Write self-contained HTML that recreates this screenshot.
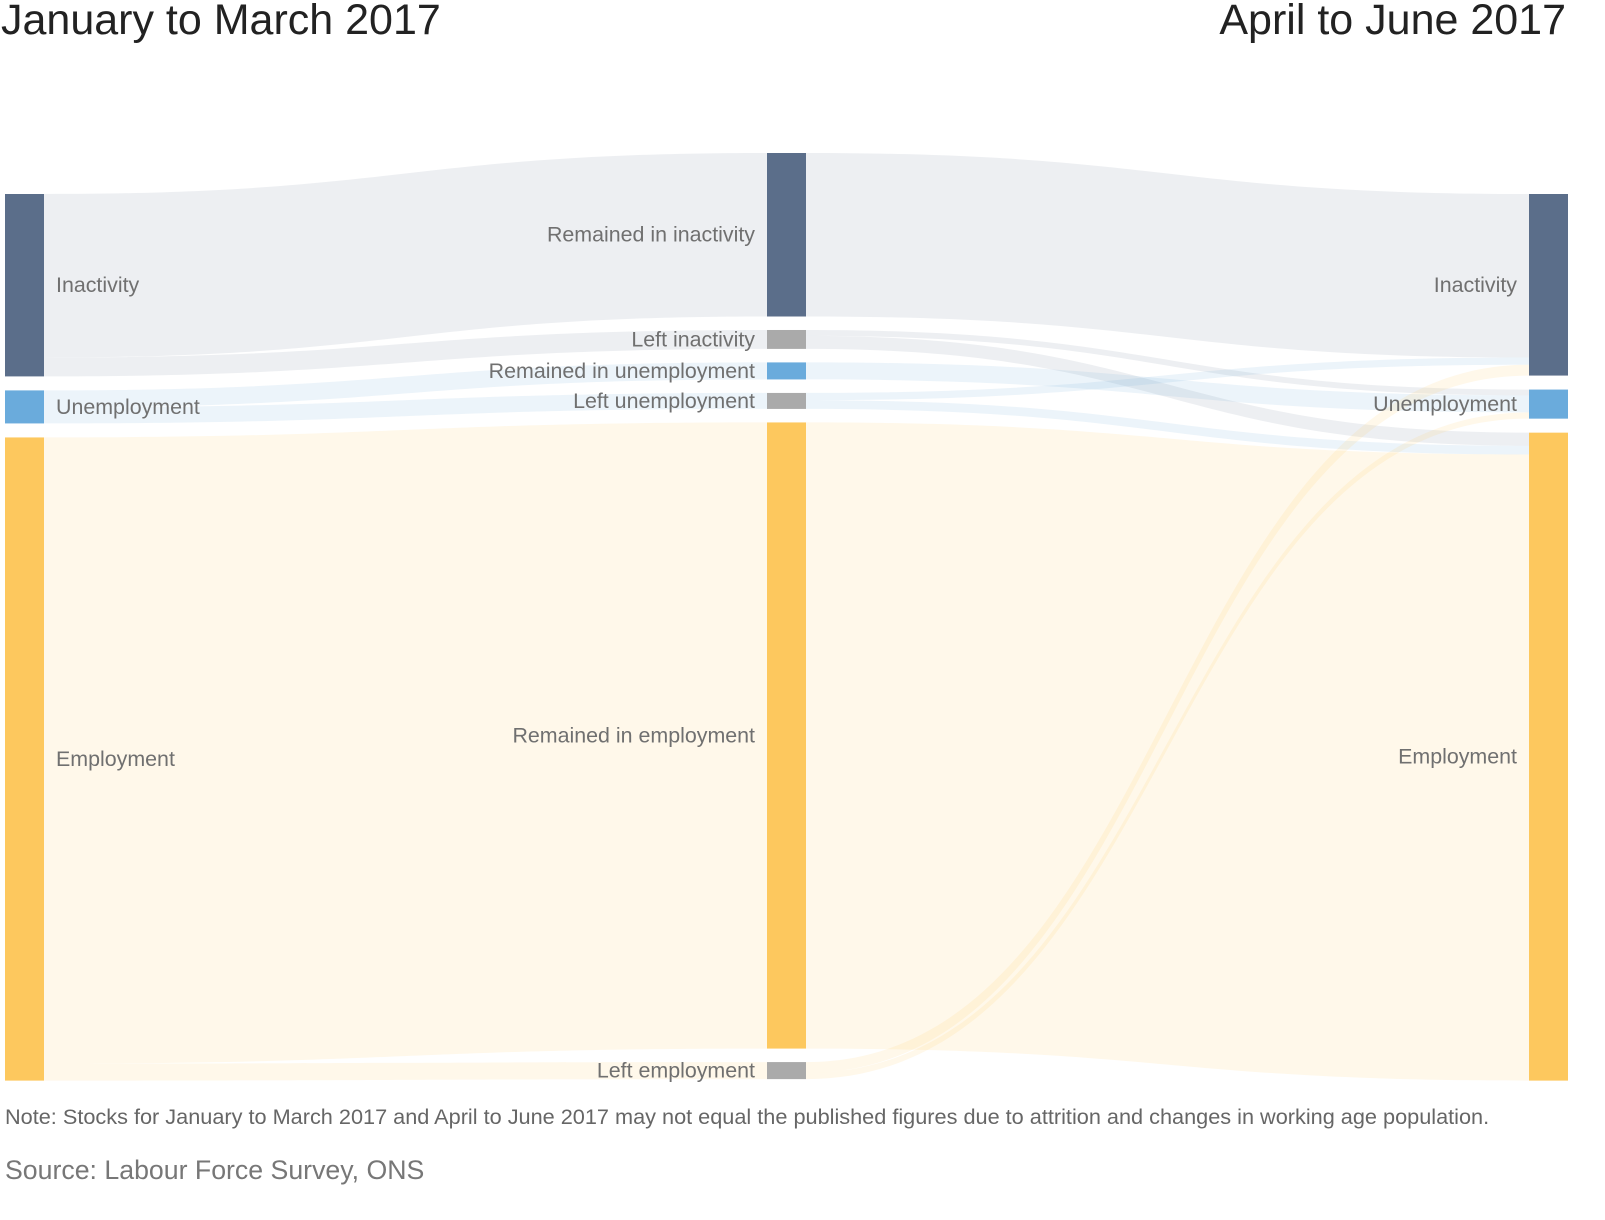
<!DOCTYPE html>
<html><head><meta charset="utf-8">
<style>
body{margin:0;background:#fff;width:1605px;height:1215px;overflow:hidden;font-family:"Liberation Sans",sans-serif;}
svg text{font-family:"Liberation Sans",sans-serif;}
</style></head>
<body>
<svg id="chart" width="1605" height="1215" xmlns="http://www.w3.org/2000/svg">
<text x="1" y="34" font-size="43" fill="#222">January to March 2017</text>
<text x="1566" y="34" font-size="43" fill="#222" text-anchor="end">April to June 2017</text>
<g id="links"></g><g id="nodes"></g><g id="labels"></g>
<text x="5" y="1124" font-size="21.7" fill="#666">Note: Stocks for January to March 2017 and April to June 2017 may not equal the published figures due to attrition and changes in working age population.</text>
<text x="5" y="1179" font-size="26.7" fill="#777">Source: Labour Force Survey, ONS</text>
</svg>
<script>
// Node names per column
const nodeNames = ["Inactivity","Unemployment","Employment","Remained in inactivity","Left inactivity","Remained in unemployment","Left unemployment","Remained in employment","Left employment","Inactivity ","Unemployment ","Employment "];
const nodeColumns = [0,0,0,1,1,1,1,1,1,2,2,2];
const nodeKinds = ["inact","unemp","emp","inact","grey","unemp","grey","emp","grey","inact","unemp","emp"];
// Flows (thousands): source index, target index, value
const linkSources = [0,0,1,1,2,2,3,4,4,5,6,6,7,8,8];
const linkTargets = [3,4,5,6,7,8,9,10,11,10,9,11,11,9,10];
const linkValues  = [7870,910,820,770,30140,820,7870,280,630,820,350,420,30140,520,300];
const linkKinds   = ["inact","inact","unemp","unemp","emp","emp","inact","inact","inact","unemp","unemp","unemp","emp","emp","emp"];

const colTop=[194,153,194], colGap=[14,13.5,14], colX=[5,767,1529], nodeW=39;
const solid={inact:"#5b6e8a",unemp:"#6aabdc",emp:"#fdc85e",grey:"#aaaaaa"};
const pale={inact:"rgba(91,110,138,0.11)",unemp:"rgba(106,171,220,0.13)",emp:"rgba(253,200,94,0.13)"};
const NS="http://www.w3.org/2000/svg";
const total=linkValues.slice(0,6).reduce((a,b)=>a+b,0);
const k=887/total*0.968;
function yScale(v){return v*k;}
const inV=nodeNames.map(()=>0),outV=nodeNames.map(()=>0);
linkValues.forEach((v,i)=>{outV[linkSources[i]]+=v;inV[linkTargets[i]]+=v;});
const nodes=nodeNames.map((n,i)=>({h:yScale(Math.max(inV[i],outV[i]))}));
const cur=[colTop[0],colTop[1],colTop[2]];
nodes.forEach((nd,i)=>{const c=nodeColumns[i];nd.y=cur[c];nd.x=colX[c];cur[c]+=nd.h+colGap[c];nd.so=nd.y;nd.to=nd.y;});
const order=linkValues.map((v,i)=>i);
const bySrc=[...order].sort((a,b)=>nodes[linkSources[a]].y-nodes[linkSources[b]].y||nodes[linkTargets[a]].y-nodes[linkTargets[b]].y);
const byTgt=[...order].sort((a,b)=>nodes[linkTargets[a]].y-nodes[linkTargets[b]].y);
const sy={},ty={};
byTgt.forEach(i=>{const s=nodes[linkSources[i]];sy[i]=s.so;s.so+=yScale(linkValues[i]);});
bySrc.forEach(i=>{const t=nodes[linkTargets[i]];ty[i]=t.to;t.to+=yScale(linkValues[i]);});
const gL=document.getElementById("links");
order.forEach(i=>{
 const s=nodes[linkSources[i]],t=nodes[linkTargets[i]],h=yScale(linkValues[i]);
 const x0=s.x+nodeW,x1=t.x,xm=(x0+x1)/2;
 const p=document.createElementNS(NS,"path");
 p.setAttribute("d",`M${x0},${sy[i]}C${xm},${sy[i]} ${xm},${ty[i]} ${x1},${ty[i]}L${x1},${ty[i]+h}C${xm},${ty[i]+h} ${xm},${sy[i]+h} ${x0},${sy[i]+h}Z`);
 p.setAttribute("fill",pale[linkKinds[i]]);
 
 
 gL.appendChild(p);
});
const gN=document.getElementById("nodes"),gT=document.getElementById("labels");
nodes.forEach((nd,i)=>{
 const r=document.createElementNS(NS,"rect");
 r.setAttribute("x",nd.x);r.setAttribute("y",nd.y);r.setAttribute("width",nodeW);r.setAttribute("height",nd.h);
 r.setAttribute("fill",solid[nodeKinds[i]]);
 
 
 gN.appendChild(r);
 const t=document.createElementNS(NS,"text");
 const c=nodeColumns[i];
 t.setAttribute("x",c==0?56:nd.x-12);
 t.setAttribute("y",nd.y+nd.h/2+7);
 t.setAttribute("font-size","21.4");t.setAttribute("fill","#707070");
 if(c>0)t.setAttribute("text-anchor","end");
 t.textContent=nodeNames[i].trim();
 
 
 gT.appendChild(t);
});
</script>
</body></html>
